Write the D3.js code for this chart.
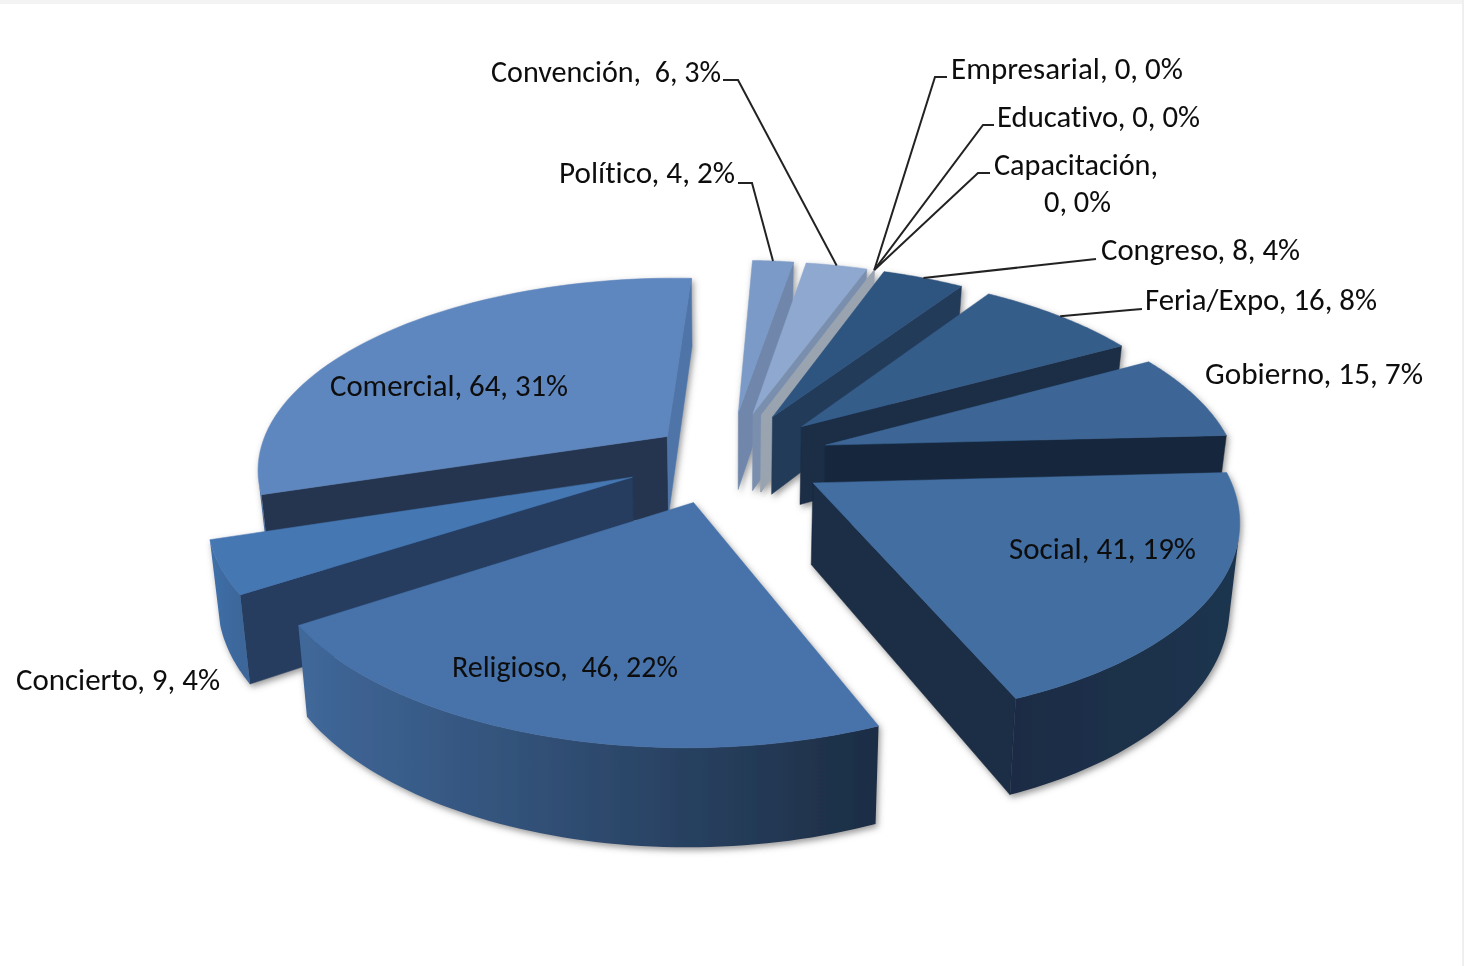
<!DOCTYPE html>
<html>
<head>
<meta charset="utf-8">
<script src="https://cdn.jsdelivr.net/npm/d3@7"></script>
<style>
  html, body { margin: 0; padding: 0; background: #fff; }
  svg { display: block; }
  text { font-family: Carlito, Lato, "Open Sans", sans-serif; font-size: 30px; fill: #0c0c0c; white-space: pre; font-variant-ligatures: none; }
</style>
</head>
<body>
<svg id="chart" width="1464" height="966"></svg>
<script>
const categories = ["Social", "Religioso", "Concierto", "Comercial", "Político", "Convención",
  "Empresarial", "Educativo", "Capacitación", "Congreso", "Feria/Expo", "Gobierno"];
const counts = [41, 46, 9, 64, 4, 6, 0, 0, 0, 8, 16, 15];
const percents = ["19%", "22%", "4%", "31%", "2%", "3%", "0%", "0%", "0%", "4%", "8%", "7%"];

// how far each slice is pulled out of the pie, and how many degrees off its middle
const explode = [0.24, 0.24, 0.25, 0.19, 0.25, 0.25, 0.25, 0.25, 0.25, 0.25, 0.25, 0.25];
const explodeTurn = [0, 2.5, 2, 0, 0, 0, 0, 0, 0, 0, 0, 0];
const topColors = ["#426ea2", "#4673aa", "#4577b3", "#5f87bf", "#7b9ac7", "#8fa8cf",
  "#9aa3b0", "#9aa3b0", "#9aa3b0", "#2f5480", "#365d8a", "#3c6697"];
const startFaces = ["#1a2d45", "#1a2d45", "#253d60", "#26364f", "#6f87ab", "#7a8fae",
  "#9aa3b0", "#9aa3b0", "#9aa3b0", "#203a58", "#1a2d44", "#17283e"];
const endFaces = ["#1a2d45", "#1a2d45", "#253d60", "#4f75a8", "#6f87ab", "#7a8fae",
  "#9aa3b0", "#9aa3b0", "#9aa3b0", "#203a58", "#1a2d44", "#17283e"];
const rimLeft = ["#1a2c44", "#40689a", "#3f70a9", "#4a6f9f", "#6f87ab", "#7a8fae",
  "#9aa3b0", "#9aa3b0", "#9aa3b0", "#203a58", "#1a2d44", "#17283e"];
const rimRight = ["#1e3550", "#1c2d44", "#3c669a", "#4a6f9f", "#6f87ab", "#7a8fae",
  "#9aa3b0", "#9aa3b0", "#9aa3b0", "#203a58", "#1a2d44", "#17283e"];

// label boxes per category: left x, baseline, width
const labelBoxes = [
  [1009, 559, 187], [452, 677, 226], [16, 690, 204], [330, 396, 238],
  [559, 183, 176], [491, 82, 230], [951, 79, 232], [997, 127, 203],
  [994, 175, 164], [1101, 260, 199], [1145, 310, 232], [1205, 384, 218]
];
// the wrapped second line of Capacitación
const secondLine = { 8: [1044, 212, 67] };
// gap after the first comma is wider on these labels
const wideGap = [1, 5];
// leader lines: category index, start of the line near the label, elbow
const leaders = [
  [5, [723, 80], [738, 80]],
  [4, [738, 183], [752, 183]],
  [6, [947, 77], [935, 77]],
  [7, [994, 125], [983, 125]],
  [8, [990, 173], [978, 173]],
  [9, [1096, 259], [1096, 259]],
  [10, [1142, 309], [1130, 310]]
];

const cx = 728, cy = 458, Rx = 410, Ry = 190, H = 80;
const persp = 0.16, shrink = 0.02;
const firstAngle = 87 * Math.PI / 180;

const svg = d3.select("#chart");

const defs = svg.append("defs");
defs.append("filter").attr("id", "shadow")
  .attr("x", "-5%").attr("y", "-5%").attr("width", "110%").attr("height", "110%")
  .append("feDropShadow")
  .attr("dx", 2).attr("dy", 3).attr("stdDeviation", 3)
  .attr("flood-color", "#555").attr("flood-opacity", 0.6);
defs.append("filter").attr("id", "soft")
  .append("feGaussianBlur").attr("stdDeviation", 0.5);

svg.append("rect").attr("width", 1464).attr("height", 966).attr("fill", "#fff");
svg.append("rect").attr("width", 1464).attr("height", 4).attr("fill", "#f3f3f3");
svg.append("rect").attr("x", 1462).attr("width", 2).attr("height", 966).attr("fill", "#efefef");

const pie = d3.pie().sort(null).value(d => d)
  .startAngle(firstAngle).endAngle(firstAngle + 2 * Math.PI);
const arcs = pie(counts);

function project(x, y, z) {
  const w = 1 / (1 - persp * y);
  const m = 1 - shrink * z;
  return [cx + Rx * x * w * m, cy + Ry * y * w + H * w * z];
}

const slices = arcs.map((a, i) => {
  const mid = (a.startAngle + a.endAngle) / 2;
  const dir = mid + explodeTurn[i] * Math.PI / 180;
  return {
    i, a0: a.startAngle, a1: a.endAngle, mid,
    ex: explode[i] * Math.sin(dir),
    ey: -explode[i] * Math.cos(dir)
  };
});

function rimPoint(s, angle, z) {
  return project(s.ex + Math.sin(angle), s.ey - Math.cos(angle), z);
}
function apex(s, z) {
  return project(s.ex, s.ey, z);
}
function cross(a, b, c) {
  return (b[0] - a[0]) * (c[1] - a[1]) - (b[1] - a[1]) * (c[0] - a[0]);
}

const line = d3.line().curve(d3.curveLinearClosed);
const pieGroup = svg.append("g").attr("filter", "url(#soft)");
const solid = pieGroup.append("g").attr("filter", "url(#shadow)");

// back slices first
slices.slice().sort((p, q) => p.ey - q.ey).forEach(s => {
  const g = solid.append("g");
  const face = (angle, color) => {
    g.append("path")
      .attr("d", line([apex(s, 0), rimPoint(s, angle, 0), rimPoint(s, angle, 1), apex(s, 1)]))
      .attr("fill", color).attr("stroke", color).attr("stroke-width", 0.5);
  };

  if (counts[s.i] === 0) {
    face(s.a0, endFaces[s.i]);
    return;
  }

  const a = apex(s, 0);
  const ca = rimPoint(s, s.a0, 0), cb = rimPoint(s, s.a0, 1);
  if (cross(a, ca, cb) < 0) face(s.a0, startFaces[s.i]);
  const da = rimPoint(s, s.a1, 0), db = rimPoint(s, s.a1, 1);
  if (cross(a, da, db) > 0) face(s.a1, endFaces[s.i]);

  const angles = d3.range(0, 61).map(k => s.a0 + (s.a1 - s.a0) * k / 60);
  const tops = angles.map(t => rimPoint(s, t, 0));
  const bottoms = angles.map(t => rimPoint(s, t, 1));

  // outer wall: only the part that faces the viewer, shaded across the screen
  const shown = d3.range(0, 60).filter(k => cross(tops[k], tops[k + 1], bottoms[k]) < 0);
  if (shown.length) {
    const first = shown[0], last = shown[shown.length - 1] + 1;
    const wallTop = tops.slice(first, last + 1);
    const wallBottom = bottoms.slice(first, last + 1).reverse();
    const xr = d3.extent(wallTop, p => p[0]);
    const grad = defs.append("linearGradient")
      .attr("id", "rim" + s.i)
      .attr("gradientUnits", "userSpaceOnUse")
      .attr("x1", xr[0]).attr("x2", xr[1]).attr("y1", 0).attr("y2", 0);
    grad.append("stop").attr("offset", 0).attr("stop-color", rimLeft[s.i]);
    grad.append("stop").attr("offset", 1).attr("stop-color", rimRight[s.i]);
    g.append("path")
      .attr("d", line([...wallTop, ...wallBottom]))
      .attr("fill", `url(#rim${s.i})`);
  }

  g.append("path")
    .attr("d", line([a, ...tops]))
    .attr("fill", topColors[s.i]).attr("stroke", topColors[s.i]).attr("stroke-width", 0.5);
});

const labelGroup = svg.append("g").attr("filter", "url(#soft)");

leaders.forEach(([i, from, elbow]) => {
  const s = slices[i];
  const end = rimPoint(s, (s.a0 + s.a1) / 2, 0);
  labelGroup.append("path")
    .attr("d", d3.line()([from, elbow, end]))
    .attr("fill", "none").attr("stroke", "#222").attr("stroke-width", 2);
});

// text lines built from the data
const labelLines = [];
categories.forEach((name, i) => {
  const tail = `${counts[i]}, ${percents[i]}`;
  if (secondLine[i]) {
    labelLines.push({ text: `${name},`, box: labelBoxes[i] });
    labelLines.push({ text: tail, box: secondLine[i] });
  } else {
    const gap = wideGap.includes(i) ? "  " : " ";
    labelLines.push({ text: `${name},${gap}${tail}`, box: labelBoxes[i] });
  }
});

labelGroup.selectAll("text.label")
  .data(labelLines)
  .enter()
  .append("text")
  .attr("class", "label")
  .attr("x", d => d.box[0])
  .attr("y", d => d.box[1])
  .attr("textLength", d => d.box[2])
  .attr("lengthAdjust", "spacingAndGlyphs")
  .text(d => d.text);
</script>
</body>
</html>
